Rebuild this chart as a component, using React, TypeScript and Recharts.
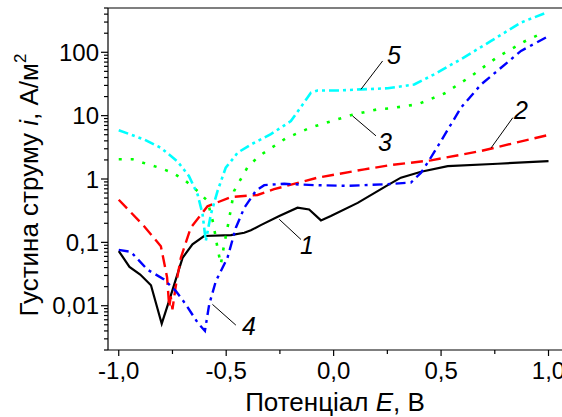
import React from 'react';
import { LineChart, Line, XAxis, YAxis, ReferenceLine, ReferenceDot } from 'recharts';

// Curve 1 (black, solid)
const E1 = [-1.0, -0.95, -0.9, -0.85, -0.8, -0.766, -0.703, -0.657, -0.603, -0.478, -0.416, -0.385, -0.339, -0.253, -0.168, -0.114, -0.059, -0.013, 0.112, 0.252, 0.313, 0.407, 0.531, 0.764, 1.0];
const I1 = [0.073, 0.041, 0.031, 0.021, 0.0052, 0.0118, 0.057, 0.093, 0.126, 0.13, 0.142, 0.155, 0.187, 0.26, 0.352, 0.33, 0.222, 0.26, 0.42, 0.8, 1.05, 1.3, 1.6, 1.74, 1.92];
// Curve 2 (red, dashed)
const E2 = [-1.0, -0.882, -0.804, -0.775, -0.765, -0.758, -0.75, -0.735, -0.711, -0.665, -0.587, -0.478, -0.354, -0.277, -0.075, 0.143, 0.267, 0.453, 0.686, 1.0];
const I2 = [0.47, 0.18, 0.087, 0.028, 0.0095, 0.014, 0.0088, 0.02, 0.057, 0.17, 0.37, 0.52, 0.56, 0.69, 1.05, 1.42, 1.66, 1.97, 2.77, 4.96];
// Curve 3 (green, dotted)
const E3 = [-1.0, -0.936, -0.874, -0.812, -0.75, -0.688, -0.633, -0.587, -0.56, -0.54, -0.525, -0.51, -0.49, -0.463, -0.4, -0.347, -0.222, -0.106, 0.019, 0.088, 0.205, 0.267, 0.391, 0.515, 0.64, 0.764, 0.888, 0.95];
const I3 = [2.05, 2.05, 1.75, 1.51, 1.26, 0.93, 0.645, 0.45, 0.2, 0.08, 0.045, 0.09, 0.2, 0.65, 1.55, 2.3, 4.4, 6.5, 8.8, 10.3, 12.6, 13.1, 15.1, 22.3, 42, 85, 148, 186];
// Curve 4 (blue, dash-dot)
const E4 = [-1.0, -0.944, -0.866, -0.789, -0.734, -0.688, -0.633, -0.599, -0.579, -0.548, -0.494, -0.455, -0.416, -0.362, -0.323, -0.23, -0.09, 0.065, 0.252, 0.36, 0.407, 0.453, 0.5, 0.593, 0.686, 0.779, 0.872, 1.0];
const I4 = [0.076, 0.071, 0.037, 0.026, 0.017, 0.0105, 0.0054, 0.004, 0.0105, 0.0245, 0.057, 0.17, 0.35, 0.65, 0.8, 0.84, 0.8, 0.78, 0.83, 0.88, 1.26, 2.2, 4.0, 13.4, 31, 57, 105, 180];
// Curve 5 (cyan, dash-dot-dot)
const E5 = [-1.0, -0.882, -0.804, -0.727, -0.673, -0.633, -0.61, -0.595, -0.571, -0.54, -0.502, -0.463, -0.447, -0.385, -0.292, -0.199, -0.144, -0.106, -0.075, 0.034, 0.127, 0.252, 0.375, 0.469, 0.593, 0.733, 0.872, 0.98];
const I5 = [5.9, 4.2, 3.1, 1.9, 1.11, 0.57, 0.28, 0.105, 0.28, 0.65, 1.51, 2.2, 2.6, 3.5, 5.1, 8.2, 15, 23, 25, 25, 26, 27, 31, 45, 78, 151, 295, 410];

// Tick values and labels
const X_MAJOR = [-1, -0.5, 0, 0.5, 1];
const X_MAJOR_LABELS = ['-1,0', '-0,5', '0,0', '0,5', '1,0'];
const X_MINOR = [-0.75, -0.25, 0.25, 0.75];
const Y_MAJOR = [0.01, 0.1, 1, 10, 100];
const Y_MAJOR_LABELS = ['0,01', '0,1', '1', '10', '100'];
const Y_MINOR = [0.002, 0.003, 0.004, 0.005, 0.006, 0.007, 0.008, 0.009, 0.02, 0.03, 0.04, 0.05, 0.06, 0.07, 0.08, 0.09, 0.2, 0.3, 0.4, 0.5, 0.6, 0.7, 0.8, 0.9, 2, 3, 4, 5, 6, 7, 8, 9, 20, 30, 40, 50, 60, 70, 80, 90, 200, 300, 400, 500];

// Curve labels: [text, E, i] and leader segments [E1, i1, E2, i2]
const CURVE_LABELS: [string, number, number][] = [
  ['5', 0.281, 91],
  ['3', 0.239, 3.8],
  ['2', 0.872, 12.3],
  ['1', -0.124, 0.0906],
  ['4', -0.394, 0.00476],
];
const LEADERS: [number, number, number, number][] = [
  [0.228, 73, 0.127, 26],
  [0.088, 9.9, 0.197, 4.8],
  [0.834, 9.3, 0.733, 3.1],
  [-0.253, 0.231, -0.152, 0.111],
  [-0.564, 0.0105, -0.455, 0.00494],
];

const toData = (es: number[], is: number[]) => es.map((e, k) => ({ E: e, i: is[k] }));
const d1 = toData(E1, I1);
const d2 = toData(E2, I2);
const d3 = toData(E3, I3);
const d4 = toData(E4, I4);
const d5 = toData(E5, I5);

const FONT = '"Liberation Sans", Arial, sans-serif';

const YTick = (props: any) => {
  const { x, y, payload } = props;
  const idx = Y_MAJOR.indexOf(payload.value);
  const major = idx >= 0;
  return (
    <g>
      <line x1={x - (major ? 7 : 4)} x2={x} y1={y} y2={y} stroke="#000" strokeWidth={1.2} />
      {major && (
        <text x={x - 9} y={y} dy="0.36em" textAnchor="end" fontSize={24} fontFamily={FONT} fill="#000">
          {Y_MAJOR_LABELS[idx]}
        </text>
      )}
    </g>
  );
};

const XTick = (props: any) => {
  const { x, y, payload } = props;
  const idx = X_MAJOR.indexOf(payload.value);
  const major = idx >= 0;
  return (
    <g>
      <line x1={x} x2={x} y1={y} y2={y + (major ? 6 : 4)} stroke="#000" strokeWidth={1.2} />
      {major && (
        <text x={x} y={y + 29} textAnchor="middle" fontSize={24} fontFamily={FONT} fill="#000">
          {X_MAJOR_LABELS[idx]}
        </text>
      )}
    </g>
  );
};

export default function App() {
  return (
    <div style={{ position: 'absolute', left: 0, top: 0, width: 562, height: 417, overflow: 'hidden', background: '#fff' }}>
      <LineChart width={572} height={417} margin={{ top: 8, right: 2, bottom: 37, left: 0 }}>
        <XAxis
          type="number"
          dataKey="E"
          domain={[-1.05, 1.1]}
          allowDataOverflow
          ticks={[...X_MAJOR, ...X_MINOR]}
          interval={0}
          tick={<XTick />}
          tickLine={false}
          tickSize={0}
          tickMargin={0}
          height={30}
          axisLine={{ stroke: '#000', strokeWidth: 1.2 }}
          label={{
            content: (p: any) => (
              <text x={335} y={411} textAnchor="middle" fontSize={26} fontFamily={FONT} fill="#000">
                Потенціал <tspan fontStyle="italic">E</tspan>, В
              </text>
            ),
          }}
        />
        <YAxis
          type="number"
          scale="log"
          domain={[0.002, 500]}
          allowDataOverflow
          ticks={[...Y_MAJOR, ...Y_MINOR]}
          interval={0}
          tick={<YTick />}
          tickLine={false}
          tickSize={0}
          tickMargin={0}
          width={108}
          axisLine={{ stroke: '#000', strokeWidth: 1.2 }}
          label={{
            content: (p: any) => (
              <text
                x={0}
                y={0}
                transform="translate(38,185) rotate(-90)"
                textAnchor="middle"
                fontSize={26}
                fontFamily={FONT}
                fill="#000"
              >
                Густина струму <tspan fontStyle="italic">i</tspan>, А/м<tspan dy={-12} fontSize={17}>2</tspan>
              </text>
            ),
          }}
        />
        <ReferenceLine y={500} stroke="#000" strokeWidth={1.2} ifOverflow="visible" />
        <Line data={d1} dataKey="i" stroke="#000000" strokeWidth={2.2} dot={false} isAnimationActive={false} />
        <Line data={d2} dataKey="i" stroke="#ff0000" strokeWidth={2.4} strokeDasharray="12 6" dot={false} isAnimationActive={false} />
        <Line data={d3} dataKey="i" stroke="#00ff00" strokeWidth={2.6} strokeDasharray="3 9" dot={false} isAnimationActive={false} />
        <Line data={d4} dataKey="i" stroke="#0000ff" strokeWidth={2.4} strokeDasharray="10 5 3 5" dot={false} isAnimationActive={false} />
        <Line data={d5} dataKey="i" stroke="#00ffff" strokeWidth={2.6} strokeDasharray="10 4 3 4 3 4" dot={false} isAnimationActive={false} />
        {LEADERS.map((s, k) => (
          <ReferenceLine
            key={'ld' + k}
            segment={[{ x: s[0], y: s[1] }, { x: s[2], y: s[3] }]}
            stroke="#000"
            strokeWidth={1}
            ifOverflow="visible"
          />
        ))}
        {CURVE_LABELS.map((c, k) => (
          <ReferenceDot
            key={'lb' + k}
            x={c[1]}
            y={c[2]}
            r={0}
            ifOverflow="visible"
            shape={(p: any) => (
              <text x={p.cx} y={p.cy} dy="0.36em" textAnchor="middle" fontSize={25} fontStyle="italic" fontFamily={FONT} fill="#000">
                {c[0]}
              </text>
            )}
          />
        ))}
      </LineChart>
    </div>
  );
}
